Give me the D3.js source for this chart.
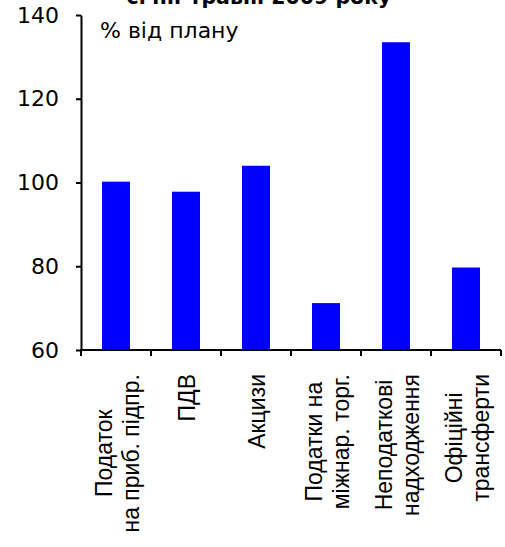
<!DOCTYPE html>
<html>
<head>
<meta charset="utf-8">
<script src="https://cdn.jsdelivr.net/npm/d3@7/dist/d3.min.js"></script>
<style>
  html, body { margin: 0; padding: 0; background: #ffffff; }
  svg { display: block; }
</style>
</head>
<body>
<svg id="chart" width="505" height="547"></svg>
<script>
// Budget revenue execution, % of plan
const titleLine = "січні-травні 2009 року";
const unitLabel = "% від плану";
const categories = [
  "Податок\nна приб. підпр.",
  "ПДВ",
  "Акцизи",
  "Податки на\nміжнар. торг.",
  "Неподаткові\nнадходження",
  "Офіційні\nтрансферти"
];
const values = [100.2, 97.8, 104.0, 71.2, 133.5, 79.7];
const yTicks = [60, 80, 100, 120, 140];
const yDomain = [60, 140];

const svg = d3.select("#chart");
const plotLeft = 81, plotRight = 501, plotTop = 15, plotBottom = 350;

const x = d3.scaleBand()
  .domain(categories)
  .range([plotLeft, plotRight])
  .paddingInner(0.6)
  .paddingOuter(0.3);

const y = d3.scaleLinear().domain(yDomain).range([plotBottom, plotTop]);

// title (second line of a two-line heading)
svg.append("text")
  .attr("x", 259)
  .attr("y", 4)
  .attr("text-anchor", "middle")
  .style("font-family", "'DejaVu Sans', Verdana, sans-serif")
  .style("font-weight", "bold")
  .style("font-size", "20.5px")
  .text(titleLine);

// bars
svg.append("g")
  .selectAll("rect")
  .data(values)
  .join("rect")
  .attr("x", (d, i) => x(categories[i]))
  .attr("width", x.bandwidth())
  .attr("y", d => y(d))
  .attr("height", d => y(yDomain[0]) - y(d))
  .attr("fill", "#0000ff");

// y axis
const yAxis = svg.append("g")
  .attr("transform", `translate(${plotLeft},0)`)
  .call(d3.axisLeft(y).tickValues(yTicks).tickSize(5).tickPadding(17).tickSizeOuter(0));
yAxis.select(".domain").attr("stroke", "#000").attr("stroke-width", 2);
yAxis.selectAll(".tick line").attr("stroke", "#000").attr("stroke-width", 2);
yAxis.selectAll(".tick text")
  .style("font-family", "'DejaVu Sans', Verdana, sans-serif")
  .style("font-size", "22px")
  .attr("fill", "#000");

// x axis: ticks at category boundaries
const boundaries = categories.map(c => x(c) - x.step() * x.paddingInner() / 2);
boundaries[0] = plotLeft;
boundaries.push(plotRight);
const xAxis = svg.append("g");
xAxis.append("line")
  .attr("x1", plotLeft - 1).attr("x2", plotRight)
  .attr("y1", plotBottom).attr("y2", plotBottom)
  .attr("stroke", "#000").attr("stroke-width", 2);
xAxis.selectAll("line.tick")
  .data(boundaries)
  .join("line")
  .attr("class", "tick")
  .attr("x1", d => d).attr("x2", d => d)
  .attr("y1", plotBottom).attr("y2", plotBottom + 6)
  .attr("stroke", "#000").attr("stroke-width", 2);

// rotated category labels, lines centred within a block hanging from the axis
const labelTop = 374;
const lineGap = 27;
categories.forEach(cat => {
  const lines = cat.split("\n");
  const g = svg.append("g")
    .attr("transform", `translate(${x(cat) + x.bandwidth() / 2},${labelTop}) rotate(-90)`);
  const texts = lines.map((ln, i) => g.append("text")
    .attr("text-anchor", "middle")
    .attr("y", 9 + (i - (lines.length - 1) / 2) * lineGap)
    .style("font-family", "'Liberation Sans', Arial, sans-serif")
    .style("font-size", "23px")
    .attr("fill", "#000")
    .text(ln));
  const maxLen = d3.max(texts, t => t.node().getComputedTextLength());
  texts.forEach(t => t.attr("x", -maxLen / 2));
});

// unit label
svg.append("text")
  .attr("x", 100)
  .attr("y", 38)
  .style("font-family", "'DejaVu Sans', Verdana, sans-serif")
  .style("font-size", "22px")
  .attr("fill", "#000")
  .text(unitLabel);
</script>
</body>
</html>
